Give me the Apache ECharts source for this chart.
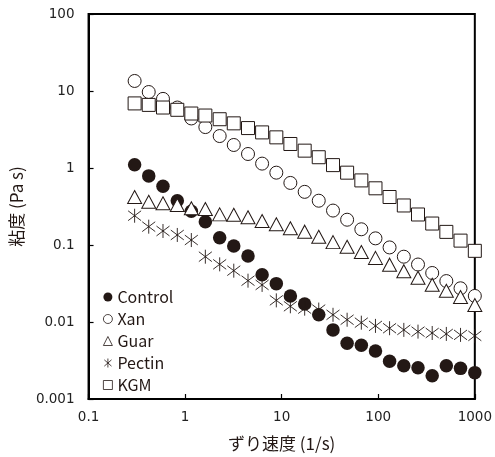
<!DOCTYPE html>
<html>
<head>
<meta charset="utf-8">
<script src="https://cdn.jsdelivr.net/npm/echarts@6/dist/echarts.min.js"></script>
<style>
    html, body { margin: 0; padding: 0; background: #fff; }
    #chart { width: 495px; height: 457px; }
</style>
</head>
<body>
<div id="chart"></div>
<script>
/*
|--------------------------------------------------------------------------
| Data
|--------------------------------------------------------------------------
*/

// Shear rate (1/s), same for every sample
const shearRates = [
    0.3, 0.42, 0.59, 0.83, 1.16, 1.62, 2.28, 3.19, 4.48, 6.27,
    8.8, 12.3, 17.3, 24.2, 34, 47.6, 66.8, 93.6, 131, 184,
    258, 362, 507, 711, 1000,
];

const seriesNames = ['Control', 'Xan', 'Guar', 'Pectin', 'KGM'];

// Viscosity (Pa s)
const controlValues = [
    1.1, 0.79, 0.58, 0.376, 0.274, 0.2, 0.124, 0.097, 0.072, 0.041,
    0.0315, 0.0218, 0.0171, 0.0124, 0.0079, 0.0053, 0.005, 0.0042, 0.0031, 0.0027,
    0.00255, 0.002, 0.0027, 0.0025, 0.0022,
];
const xanValues = [
    13.5, 9.7, 7.9, 6.1, 4.4, 3.4, 2.6, 1.99, 1.52, 1.14,
    0.87, 0.64, 0.49, 0.376, 0.28, 0.213, 0.16, 0.122, 0.093, 0.0705,
    0.0558, 0.0433, 0.034, 0.0274, 0.0218,
];
const guarValues = [
    0.42, 0.365, 0.348, 0.331, 0.3, 0.293, 0.25, 0.247, 0.229, 0.205,
    0.186, 0.165, 0.149, 0.128, 0.109, 0.095, 0.081, 0.068, 0.0555, 0.0457,
    0.0375, 0.0305, 0.0254, 0.0211, 0.0166,
];
const pectinValues = [
    0.24, 0.173, 0.152, 0.135, 0.116, 0.0705, 0.0561, 0.0464, 0.0344, 0.0303,
    0.0191, 0.016, 0.0149, 0.0145, 0.0124, 0.0107, 0.0098, 0.0089, 0.0083, 0.0079,
    0.0075, 0.0072, 0.007, 0.0068, 0.0066,
];
const kgmValues = [
    6.9, 6.6, 6.1, 5.7, 5.1, 4.8, 4.3, 3.8, 3.3, 2.9,
    2.5, 2.05, 1.68, 1.38, 1.09, 0.87, 0.69, 0.545, 0.42, 0.326,
    0.249, 0.19, 0.148, 0.114, 0.084,
];

/*
|--------------------------------------------------------------------------
| Styles
|--------------------------------------------------------------------------
*/

const inkColor = '#231815';
const labelFont = ['DejaVu Sans', 'sans-serif'];
const jpFont = ['Noto Sans CJK JP', 'sans-serif'];

// Vertical bar crossed by an X
const asteriskSymbol = 'path://M0,-10L0,10M-8,-7L8,7M-8,7L8,-7';

// Note: scatter defaults to opacity 0.8, markers here are fully opaque
const markerStyles = {
    Control: { symbol: 'circle', symbolSize: 13.5, itemStyle: { color: inkColor, borderColor: inkColor, borderWidth: 0, opacity: 1 } },
    Xan: { symbol: 'circle', symbolSize: 13, itemStyle: { color: '#fff', borderColor: inkColor, borderWidth: 1, opacity: 1 } },
    Guar: { symbol: 'triangle', symbolSize: [14, 13], itemStyle: { color: '#fff', borderColor: inkColor, borderWidth: 1, opacity: 1 } },
    Pectin: { symbol: asteriskSymbol, symbolSize: [13, 14], itemStyle: { color: 'transparent', borderColor: inkColor, borderWidth: 0.9, opacity: 1 } },
    KGM: { symbol: 'rect', symbolSize: 13, itemStyle: { color: '#fff', borderColor: inkColor, borderWidth: 1, opacity: 1 } },
};

/*
|--------------------------------------------------------------------------
| Chart
|--------------------------------------------------------------------------
*/

function toPoints(values) {
    return values.map((v, i) => [shearRates[i], v]);
}

function initializeViscosityChart() {
    const container = document.getElementById('chart');
    const chart = echarts.init(container, null, { renderer: 'canvas' });

    const valuesByName = {
        Control: controlValues,
        Xan: xanValues,
        Guar: guarValues,
        Pectin: pectinValues,
        KGM: kgmValues,
    };

    const series = seriesNames.map(name => ({
        name,
        type: 'scatter',
        ...markerStyles[name],
        data: toPoints(valuesByName[name]),
        animation: false,
    }));

    // Legend icons are a bit smaller than the plotted markers
    const legendItems = seriesNames.map(name => ({
        name,
        icon: markerStyles[name].symbol,
        itemStyle: { ...markerStyles[name].itemStyle, borderWidth: name === 'Control' ? 0 : 0.8 },
    }));

    const axisLine = { show: true, lineStyle: { color: '#000', width: 2 } };
    const axisTick = { show: true, inside: true, length: 5, lineStyle: { color: '#000', width: 1.2 } };
    const axisLabel = { color: '#222', fontFamily: labelFont, fontSize: 13.5 };

    chart.setOption({
        animation: false,
        grid: {
            left: 84, right: 19, top: 14, bottom: 58,
            show: true, borderColor: '#000', borderWidth: 2,
        },
        legend: {
            orient: 'vertical',
            left: 98,
            top: 284,
            itemWidth: 9,
            itemHeight: 9,
            itemGap: 6,
            textStyle: { color: inkColor, fontFamily: jpFont, fontSize: 16 },
            data: legendItems,
        },
        xAxis: {
            type: 'log',
            logBase: 10,
            min: 0.1,
            max: 1000,
            name: 'ずり速度 (1/s)',
            nameLocation: 'middle',
            nameGap: 36,
            nameTextStyle: { color: inkColor, fontFamily: jpFont, fontSize: 17 },
            axisLine,
            axisTick,
            axisLabel: { ...axisLabel, margin: 11, formatter: v => String(v) },
            splitLine: { show: false },
            minorTick: { show: false },
        },
        yAxis: {
            type: 'log',
            logBase: 10,
            min: 0.001,
            max: 100,
            name: '粘度 (Pa s)',
            nameLocation: 'middle',
            nameGap: 58,
            nameTextStyle: { color: inkColor, fontFamily: jpFont, fontSize: 17 },
            axisLine,
            axisTick,
            axisLabel: { ...axisLabel, margin: 14, formatter: v => String(v) },
            splitLine: { show: false },
        },
        series,
    });
}

initializeViscosityChart();
</script>
</body>
</html>
